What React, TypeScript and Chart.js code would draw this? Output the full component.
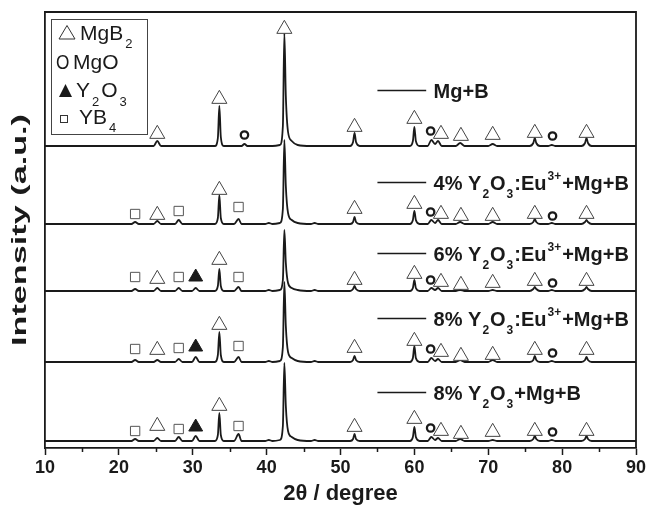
import React, { useEffect, useRef } from "react";
import { Chart, registerables } from "chart.js";

Chart.register(...registerables);

// 2θ positions (degree) shared by all patterns
const twoTheta = [
  10, 16, 21.7, 22.2, 22.7, 24.7, 25.2, 25.7, 27.6, 28.1, 28.6, 29.9, 30.4, 30.9,
  33.0, 33.4, 33.6, 33.8, 34.2, 35.6, 36.2, 36.6, 37.0, 37.4, 39.8, 40.3, 40.8,
  41.8, 42.2, 42.4, 42.6, 42.9, 43.4, 44.2, 46.0, 46.5, 47.0, 51.3, 51.7, 51.9,
  52.1, 52.6, 58.0, 59.4, 59.8, 60.0, 60.2, 60.7, 61.8, 62.3, 62.8, 63.2, 63.7,
  65.6, 66.2, 66.8, 70.0, 70.6, 71.2, 75.6, 76.1, 76.3, 76.5, 77.0, 78.1, 78.6,
  79.1, 82.6, 83.1, 83.3, 83.5, 84.0, 90,
];

// net intensities (a.u.) of each pattern
const mgB = [
  0, 0, 0, 0, 0, 0, 5, 0, 0, 0, 0, 0, 0, 0,
  0, 8, 40, 9, 0, 0, 0, 0, 2, 0, 0, 0, 0,
  1, 20, 113, 50, 14, 5, 1, 0, 0, 0, 0, 4, 13,
  4, 0, 0, 0, 5, 19, 5, 0, 0, 6, 2, 5, 0,
  0, 3, 0, 0, 2, 0, 0, 3, 8, 3, 0, 0, 1,
  0, 0, 3, 8, 3, 0, 0,
];
const eu4 = [
  0, 0, 0, 2, 0, 0, 3, 0, 0, 4, 0, 0, 0, 0,
  0, 6, 29, 6, 0, 0, 5, 0, 0, 0, 0, 1, 0,
  1, 15, 84, 38, 11, 4, 1, 0, 1, 0, 0, 2, 7,
  2, 0, 0, 0, 4, 13, 4, 0, 0, 4, 1, 4, 0,
  0, 2, 0, 0, 2, 0, 0, 2, 5, 2, 0, 0, 1,
  0, 0, 2, 4, 2, 0, 0,
];
const eu6 = [
  0, 0, 0, 2, 0, 0, 3, 0, 0, 3, 0, 0, 3, 0,
  0, 5, 22, 5, 0, 0, 4, 0, 0, 0, 0, 1, 0,
  1, 11, 61, 28, 8, 3, 1, 0, 1, 0, 0, 2, 5,
  2, 0, 0, 0, 3, 11, 3, 0, 0, 3, 1, 3, 0,
  0, 1, 0, 0, 1, 0, 0, 2, 4, 2, 0, 0, 1,
  0, 0, 2, 4, 2, 0, 0,
];
const eu8 = [
  0, 0, 0, 2, 0, 0, 2, 0, 0, 3, 0, 0, 5, 0,
  0, 7, 30, 7, 0, 0, 5, 0, 0, 0, 0, 1, 0,
  1, 15, 80, 36, 10, 4, 1, 0, 1, 0, 0, 2, 6,
  2, 0, 0, 0, 4, 16, 4, 0, 0, 4, 1, 3, 0,
  0, 2, 0, 0, 2, 0, 0, 2, 6, 2, 0, 0, 1,
  0, 0, 2, 5, 2, 0, 0,
];
const y2o3_8 = [
  0, 0, 0, 2, 0, 0, 3, 0, 0, 4, 0, 0, 5, 0,
  0, 6, 28, 6, 0, 0, 7, 0, 0, 0, 0, 1, 0,
  1, 15, 78, 35, 10, 4, 1, 0, 1, 0, 0, 2, 7,
  2, 0, 0, 0, 4, 14, 4, 0, 0, 4, 1, 3, 0,
  0, 2, 0, 0, 1, 0, 0, 2, 5, 2, 0, 0, 1,
  0, 0, 2, 5, 2, 0, 0,
];

const seriesNames = [
  "Mg+B",
  "4% Y₂O₃:Eu³⁺+Mg+B",
  "6% Y₂O₃:Eu³⁺+Mg+B",
  "8% Y₂O₃:Eu³⁺+Mg+B",
  "8% Y₂O₃+Mg+B",
];
const seriesValues = [mgB, eu4, eu6, eu8, y2o3_8];
// vertical stacking offsets (a.u.)
const offsets = [302, 224, 157, 86, 7];

// phase markers [2θ, a.u.]
const mgb2Marks: [number, number][] = [
  [25.2, 314], [33.6, 349], [42.4, 419], [51.9, 321], [60.0, 329], [63.6, 314], [66.3, 312], [70.6, 313], [76.3, 315], [83.3, 315],
  [25.2, 233], [33.6, 258], [51.9, 239], [60.0, 244], [63.6, 234], [66.3, 232], [70.6, 232], [76.3, 234], [83.3, 234],
  [25.2, 169], [33.6, 188], [51.9, 168], [60.0, 174], [63.6, 166], [66.3, 163], [70.6, 165], [76.3, 167], [83.3, 167],
  [25.2, 98], [33.6, 123], [51.9, 100], [60.0, 107], [63.6, 96], [66.3, 92], [70.6, 93], [76.3, 98], [83.3, 98],
  [25.2, 22], [33.6, 42], [51.9, 21], [60.0, 29], [63.6, 17], [66.3, 14], [70.6, 16], [76.3, 17], [83.3, 17],
];
const mgoMarks: [number, number][] = [
  [37.0, 313], [62.2, 317], [78.7, 312],
  [62.2, 236], [78.7, 232],
  [62.2, 168], [78.7, 165],
  [62.2, 99], [78.7, 95],
  [62.2, 20], [78.7, 16],
];
const y2o3Marks: [number, number][] = [
  [30.4, 171], [30.4, 101], [30.4, 21],
];
const yb4Marks: [number, number][] = [
  [22.2, 234], [28.1, 237], [36.2, 241],
  [22.2, 171], [28.1, 171], [36.2, 171],
  [22.2, 99], [28.1, 100], [36.2, 102],
  [22.2, 17], [28.1, 19], [36.2, 22],
];

const xTicks = [10, 20, 30, 40, 50, 60, 70, 80, 90];
const xMinorTicks = [15, 25, 35, 45, 55, 65, 75, 85];

// series label rows: y level (a.u.), rich-text parts
type Part = [string, "n" | "sub" | "sup"];
const labelLevels = [358, 266, 195, 130, 56];
const labelParts: Part[][] = [
  [["Mg+B", "n"]],
  [["4% Y", "n"], ["2", "sub"], ["O", "n"], ["3", "sub"], [":Eu", "n"], ["3+", "sup"], ["+Mg+B", "n"]],
  [["6% Y", "n"], ["2", "sub"], ["O", "n"], ["3", "sub"], [":Eu", "n"], ["3+", "sup"], ["+Mg+B", "n"]],
  [["8% Y", "n"], ["2", "sub"], ["O", "n"], ["3", "sub"], [":Eu", "n"], ["3+", "sup"], ["+Mg+B", "n"]],
  [["8% Y", "n"], ["2", "sub"], ["O", "n"], ["3", "sub"], ["+Mg+B", "n"]],
];

const FONT = "'Liberation Sans', Arial, Helvetica, sans-serif";
const INK = "#1a1a1a";

function drawRich(
  ctx: CanvasRenderingContext2D,
  parts: Part[],
  x: number,
  y: number,
  size: number,
  weight: string,
  subSize = Math.round(size * 0.62),
  subDrop = size * 0.38,
  gap = 1
) {
  let cx = x;
  ctx.textBaseline = "alphabetic";
  ctx.textAlign = "left";
  for (const [t, k] of parts) {
    if (k === "n") {
      ctx.font = `${weight} ${size}px ${FONT}`;
      ctx.fillText(t, cx, y);
      cx += ctx.measureText(t).width;
    } else {
      ctx.font = `${weight} ${subSize}px ${FONT}`;
      const dy = k === "sub" ? subDrop : -size * 0.5;
      cx += gap;
      ctx.fillText(t, cx, y + dy);
      cx += ctx.measureText(t).width + gap;
    }
  }
}

const decorPlugin = {
  id: "decor",
  afterDraw(chart: any) {
    const { ctx, chartArea: a, scales } = chart;
    const xs = scales.x;
    const ys = scales.y;
    ctx.save();
    // frame top/right
    ctx.strokeStyle = INK;
    ctx.lineWidth = 1.8;
    ctx.beginPath();
    ctx.moveTo(a.left, a.top);
    ctx.lineTo(a.right, a.top);
    ctx.lineTo(a.right, a.bottom);
    ctx.stroke();
    // minor ticks
    ctx.lineWidth = 1.5;
    ctx.beginPath();
    for (const v of xMinorTicks) {
      const px = Math.round(xs.getPixelForValue(v)) + 0.5;
      ctx.moveTo(px, a.bottom);
      ctx.lineTo(px, a.bottom + 4);
    }
    ctx.stroke();

    // y axis title (drawn stretched along its length like the original)
    ctx.save();
    ctx.fillStyle = INK;
    ctx.font = `bold 20px ${FONT}`;
    const title = "Intensity (a.u.)";
    const tw = ctx.measureText(title).width;
    ctx.translate(19, (a.top + a.bottom) / 2);
    ctx.rotate(-Math.PI / 2);
    ctx.scale(232 / tw, 1);
    ctx.textAlign = "center";
    ctx.textBaseline = "middle";
    ctx.fillText(title, 0, 1);
    ctx.restore();

    // legend box
    ctx.fillStyle = "#fff";
    ctx.strokeStyle = "#444";
    ctx.lineWidth = 1;
    ctx.fillRect(51.5, 19.5, 96, 115);
    ctx.strokeRect(51.5, 19.5, 96, 115);
    ctx.fillStyle = INK;
    // row 1: open triangle
    ctx.beginPath();
    ctx.moveTo(67, 25.5);
    ctx.lineTo(75, 39);
    ctx.lineTo(59, 39);
    ctx.closePath();
    ctx.strokeStyle = "#333";
    ctx.stroke();
    drawRich(ctx, [["MgB", "n"], ["2", "sub"]], 80, 40, 21, "normal", 13, 8, 2);
    // row 2: "O" symbol
    ctx.save();
    ctx.translate(56, 69);
    ctx.scale(0.86, 1);
    ctx.font = `normal 20px ${FONT}`;
    ctx.fillText("O", 0, 0);
    ctx.restore();
    ctx.font = `normal 21px ${FONT}`;
    ctx.fillText("MgO", 73, 69);
    // row 3: filled triangle
    ctx.beginPath();
    ctx.moveTo(65.5, 84);
    ctx.lineTo(72, 97);
    ctx.lineTo(59, 97);
    ctx.closePath();
    ctx.fill();
    drawRich(ctx, [["Y", "n"], ["2", "sub"], ["O", "n"], ["3", "sub"]], 76, 97, 21, "normal", 13, 9, 2);
    // row 4: open square
    ctx.strokeRect(60.5, 115.5, 7, 7);
    drawRich(ctx, [["YB", "n"], ["4", "sub"]], 79, 124, 21, "normal", 13, 8, 2);

    // series labels
    const x0 = xs.getPixelForValue(55.0);
    const x1 = xs.getPixelForValue(61.6);
    const xt = xs.getPixelForValue(62.6);
    labelLevels.forEach((lv, i) => {
      const py = Math.round(ys.getPixelForValue(lv)) + 0.5;
      ctx.strokeStyle = INK;
      ctx.lineWidth = 1.6;
      ctx.beginPath();
      ctx.moveTo(x0, py);
      ctx.lineTo(x1, py);
      ctx.stroke();
      ctx.fillStyle = INK;
      drawRich(ctx, labelParts[i], xt, py + 7.5, 20, "bold");
    });
    ctx.restore();
  },
};

export default function App() {
  const ref = useRef<HTMLCanvasElement | null>(null);
  useEffect(() => {
    if (!ref.current) return;
    const traceSets = seriesValues.map((vals, i) => ({
      type: "scatter" as const,
      label: seriesNames[i],
      data: twoTheta.map((t, j) => ({ x: t, y: offsets[i] + vals[j] })),
      showLine: true,
      borderColor: INK,
      borderWidth: 1.8,
      pointRadius: 0,
      cubicInterpolationMode: "monotone" as const,
      order: 2,
    }));
    const toPts = (arr: [number, number][]) => arr.map(([x, y]) => ({ x, y }));
    const markerSets = [
      {
        type: "scatter" as const,
        label: "MgB2",
        data: toPts(mgb2Marks),
        pointStyle: "triangle",
        pointRadius: 8.7,
        backgroundColor: "#fff",
        borderColor: "#444",
        borderWidth: 1,
        order: 0,
      },
      {
        type: "scatter" as const,
        label: "MgO",
        data: toPts(mgoMarks),
        pointStyle: "circle",
        pointRadius: 3.7,
        backgroundColor: "rgba(255,255,255,0)",
        borderColor: INK,
        borderWidth: 2.3,
        order: 0,
      },
      {
        type: "scatter" as const,
        label: "Y2O3",
        data: toPts(y2o3Marks),
        pointStyle: "triangle",
        pointRadius: 8,
        backgroundColor: INK,
        borderColor: INK,
        borderWidth: 1,
        order: 0,
      },
      {
        type: "scatter" as const,
        label: "YB4",
        data: toPts(yb4Marks),
        pointStyle: "rect",
        pointRadius: 6.6,
        backgroundColor: "#fff",
        borderColor: "#555",
        borderWidth: 1,
        order: 0,
      },
    ];
    const chart = new Chart(ref.current, {
      type: "scatter",
      data: { datasets: [...traceSets, ...markerSets] as any },
      options: {
        responsive: false,
        animation: false,
        events: [],
        layout: { padding: { top: 12, right: 19, left: 0, bottom: 0 } },
        plugins: { legend: { display: false }, tooltip: { enabled: false } },
        scales: {
          x: {
            type: "linear",
            min: 10,
            max: 90,
            afterBuildTicks: (s: any) => {
              s.ticks = xTicks.map((v) => ({ value: v }));
            },
            afterFit: (s: any) => {
              s.height = 60;
            },
            ticks: {
              color: INK,
              font: { family: FONT, size: 18, weight: "bold" },
              padding: 2,
              maxRotation: 0,
            },
            grid: { drawOnChartArea: false, tickLength: 7, color: INK, tickWidth: 1.5 },
            border: { color: INK, width: 1.8 },
            title: {
              display: true,
              text: "2θ / degree",
              color: INK,
              font: { family: FONT, size: 22, weight: "bold" },
              padding: { top: 0, bottom: 1 },
            },
          },
          y: {
            type: "linear",
            min: 0,
            max: 436,
            afterFit: (s: any) => {
              s.width = 45;
            },
            ticks: { display: false },
            grid: { display: false },
            border: { display: true, color: INK, width: 1.8 },
            title: { display: false, text: "Intensity (a.u.)" },
          },
        },
      },
      plugins: [decorPlugin],
    });
    return () => chart.destroy();
  }, []);
  return (
    <div style={{ position: "absolute", left: 0, top: 0, width: 655, height: 508, background: "#fff" }}>
      <canvas ref={ref} width={655} height={508} style={{ width: 655, height: 508, display: "block" }} />
    </div>
  );
}
